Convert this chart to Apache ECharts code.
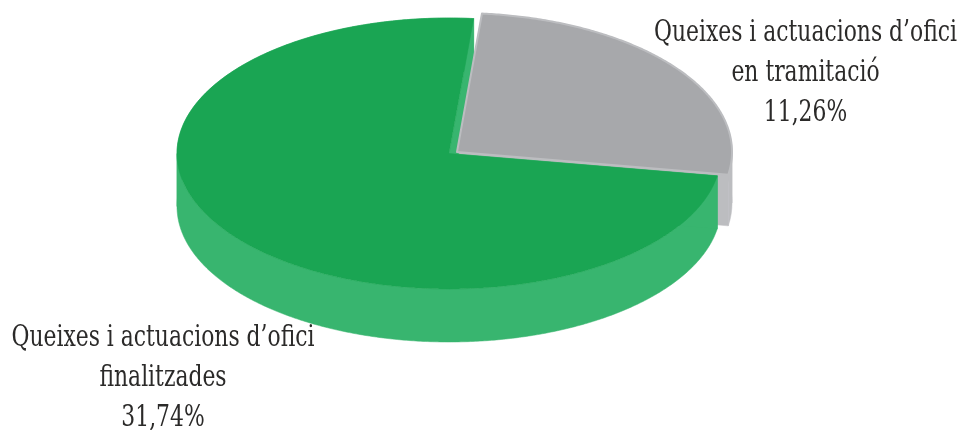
<!DOCTYPE html>
<html>
<head>
<meta charset="utf-8">
<style>html,body{margin:0;padding:0;background:#fff}#c{width:960px;height:430px}</style>
<script src="https://cdn.jsdelivr.net/npm/echarts@6/dist/echarts.min.js"></script>
</head>
<body>
<div id="c"></div>
<script>
var categories = ["Queixes i actuacions d’ofici\nen tramitació", "Queixes i actuacions d’ofici\nfinalitzades"];
var values = [11.26, 31.74];
var topColors = ["#a7a8ab", "#1aa553"];
var wallColors = ["#bcbdc0", "#38b56f"];
var total = values[0] + values[1];
var START = 5.2;
var geo = [
  {cx: 457, cy: 152, rx: 275, ry: 139, depth: 51},
  {cx: 449, cy: 153.5, rx: 272, ry: 135.5, depth: 53}
];
var labelPos = [{x: 805.5, y: 73}, {x: 163, y: 378}];

function range(i) {
  var a = START;
  for (var k = 0; k < i; k++) a += values[k] / total * 360;
  return [a, a + values[i] / total * 360];
}
function pt(g, deg, dy) {
  var t = deg * Math.PI / 180;
  return [g.cx + g.rx * Math.sin(t), g.cy - g.ry * Math.cos(t) + (dy || 0)];
}
function arc(g, a, b, dy) {
  var out = [];
  for (var d = a; d < b; d += 0.5) out.push(pt(g, d, dy));
  out.push(pt(g, b, dy));
  return out;
}
function poly(points, fill, stroke, lw) {
  return {type: 'polygon', shape: {points: points},
    style: {fill: fill, stroke: stroke || fill, lineWidth: lw === undefined ? 0.5 : lw, lineJoin: 'round'}};
}
function renderWalls(params) {
  var i = params.dataIndex, g = geo[i], r = range(i), kids = [], D = g.depth;
  var cuts = [r[0]];
  [90, 270].forEach(function (s) { if (s > r[0] && s < r[1]) cuts.push(s); });
  cuts.push(r[1]);
  for (var k = 0; k + 1 < cuts.length; k++) {
    kids.push(poly(arc(g, cuts[k], cuts[k + 1], 0).concat(arc(g, cuts[k], cuts[k + 1], D).reverse()), wallColors[i]));
  }
  var c = [g.cx, g.cy], cd = [g.cx, g.cy + D];
  [r[0], r[1]].forEach(function (ang) {
    kids.push(poly([c, pt(g, ang, 0), pt(g, ang, D), cd], wallColors[i]));
  });
  return {type: 'group', children: kids};
}
function renderTops(params) {
  var i = params.dataIndex, g = geo[i], r = range(i);
  var pts = [[g.cx, g.cy]].concat(arc(g, r[0], r[1], 0));
  return poly(pts, topColors[i], i === 0 ? '#bcbdc0' : topColors[i], i === 0 ? 2 : 0.5);
}
function renderLabels(params, api) {
  var i = params.dataIndex;
  var txt = categories[i] + "\n" + api.value(0).toFixed(2).replace('.', ',') + "%";
  return {type: 'text', x: labelPos[i].x, y: labelPos[i].y, scaleX: 0.81,
    style: {text: txt, fill: '#2b2a29', font: '30px "DejaVu Serif Condensed", "DejaVu Serif"', lineHeight: 40,
      align: 'center', verticalAlign: 'middle'}};
}
var chart = echarts.init(document.getElementById('c'), null, {renderer: 'canvas'});
chart.setOption({
  animation: false,
  backgroundColor: '#fff',
  series: [
    {type: 'custom', coordinateSystem: 'none', renderItem: renderWalls, data: values.map(function (v) { return [v]; }), silent: true},
    {type: 'custom', coordinateSystem: 'none', renderItem: function (p) {
        return renderTops({dataIndex: 1 - p.dataIndex});
      }, data: values.map(function (v) { return [v]; }), silent: true},
    {type: 'custom', coordinateSystem: 'none', renderItem: renderLabels, data: values.map(function (v) { return [v]; }), silent: true}
  ]
});
</script>
</body>
</html>
